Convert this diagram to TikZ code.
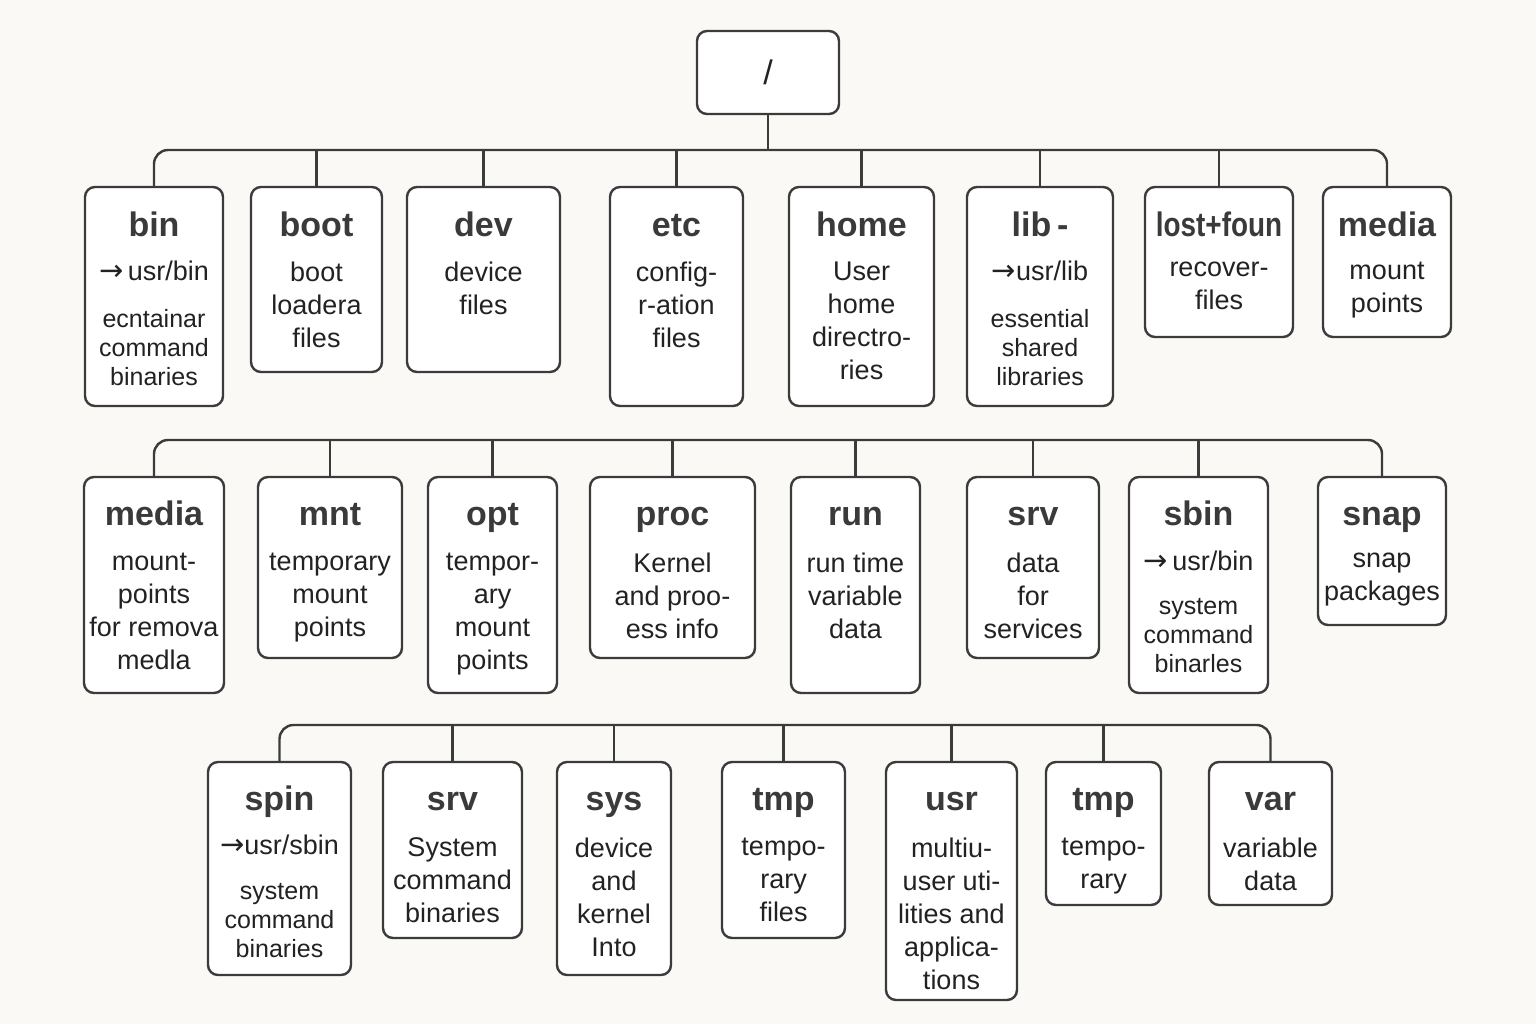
\documentclass[tikz,border=0pt]{standalone}
\usepackage{fontspec}
\setmainfont{Liberation Sans}
\newfontfamily\arrowfont{DejaVu Sans}
\usepackage{graphicx}
\definecolor{paper}{HTML}{FAF9F5}
\definecolor{linegray}{HTML}{3B3B3B}
\definecolor{titlegray}{HTML}{3A3A3A}
\definecolor{ink}{HTML}{222222}
\newcommand{\dirtitlefont}{\fontsize{34}{40}\selectfont\bfseries}
\newcommand{\dirnotefont}{\fontsize{27}{33}\selectfont}
\newcommand{\dirsmallfont}{\fontsize{25}{29}\selectfont}
\newcommand{\linkarrow}{{\arrowfont\fontsize{29}{33}\selectfont →}}
\tikzset{
  dirbox/.style={draw=linegray, line width=2.4pt, rounded corners=10pt, fill=white, inner sep=0pt},
  wire/.style={draw=linegray, line width=2.4pt},
  dirname/.style={anchor=base, inner sep=0pt, font=\dirtitlefont, text=titlegray},
  dirnote/.style={anchor=north, inner sep=0pt, align=center, font=\dirnotefont, text=ink, execute at begin node=\strut},
  dirlink/.style={anchor=base, inner sep=0pt, font=\dirnotefont, text=ink},
  dirsmall/.style={anchor=north, inner sep=0pt, align=center, font=\dirsmallfont, text=ink, execute at begin node=\strut}
}

\begin{document}
\begin{tikzpicture}[x=1pt, y=-1pt]
  \useasboundingbox (0,0) rectangle (1536,1024);
  \fill[paper] (0,0) rectangle (1536,1024);

  \node[dirbox, minimum width=142pt, minimum height=83pt, font=\fontsize{34}{40}\selectfont, text=ink] (root) at (768,72.5) {/};

  \node[dirbox, minimum width=138pt, minimum height=219pt] (bin) at (154,296.5) {};
  \node[dirbox, minimum width=131pt, minimum height=185pt] (boot) at (316.5,279.5) {};
  \node[dirbox, minimum width=153pt, minimum height=185pt] (dev) at (483.5,279.5) {};
  \node[dirbox, minimum width=133pt, minimum height=219pt] (etc) at (676.5,296.5) {};
  \node[dirbox, minimum width=145pt, minimum height=219pt] (home) at (861.5,296.5) {};
  \node[dirbox, minimum width=146pt, minimum height=219pt] (lib) at (1040,296.5) {};
  \node[dirbox, minimum width=148pt, minimum height=150pt] (lostfound) at (1219,262) {};
  \node[dirbox, minimum width=128pt, minimum height=150pt] (media) at (1387,262) {};

  \node[dirbox, minimum width=140pt, minimum height=216pt] (media2) at (154,585) {};
  \node[dirbox, minimum width=144pt, minimum height=181pt] (mnt) at (330,567.5) {};
  \node[dirbox, minimum width=129pt, minimum height=216pt] (opt) at (492.5,585) {};
  \node[dirbox, minimum width=165pt, minimum height=181pt] (proc) at (672.5,567.5) {};
  \node[dirbox, minimum width=129pt, minimum height=216pt] (run) at (855.5,585) {};
  \node[dirbox, minimum width=132pt, minimum height=181pt] (srv) at (1033,567.5) {};
  \node[dirbox, minimum width=139pt, minimum height=216pt] (sbin) at (1198.5,585) {};
  \node[dirbox, minimum width=128pt, minimum height=148pt] (snap) at (1382,551) {};

  \node[dirbox, minimum width=143pt, minimum height=213pt] (spin) at (279.5,868.5) {};
  \node[dirbox, minimum width=139pt, minimum height=176pt] (srv2) at (452.5,850) {};
  \node[dirbox, minimum width=114pt, minimum height=213pt] (sys) at (614,868.5) {};
  \node[dirbox, minimum width=123pt, minimum height=176pt] (tmp) at (783.5,850) {};
  \node[dirbox, minimum width=131pt, minimum height=238pt] (usr) at (951.5,881) {};
  \node[dirbox, minimum width=115pt, minimum height=143pt] (tmp2) at (1103.5,833.5) {};
  \node[dirbox, minimum width=123pt, minimum height=143pt] (var) at (1270.5,833.5) {};

  \node[dirname, yshift=-51pt] (bin-name) at (bin.north) {bin};
  \node[dirlink, yshift=-95pt] (bin-link) at (bin.north) {\linkarrow\,usr/bin};
  \node[dirsmall, yshift=-123pt] (bin-note) at (bin.north) {ecntainar\\command\\binaries};
  \node[dirname, yshift=-51pt] (boot-name) at (boot.north) {boot};
  \node[dirnote, yshift=-76pt] (boot-note) at (boot.north) {boot\\loadera\\files};
  \node[dirname, yshift=-51pt] (dev-name) at (dev.north) {dev};
  \node[dirnote, yshift=-76pt] (dev-note) at (dev.north) {device\\files};
  \node[dirname, yshift=-51pt] (etc-name) at (etc.north) {etc};
  \node[dirnote, yshift=-76pt] (etc-note) at (etc.north) {config-\\r-ation\\files};
  \node[dirname, yshift=-51pt] (home-name) at (home.north) {home};
  \node[dirnote, yshift=-76pt] (home-note) at (home.north) {User\\home\\directro-\\ries};
  \node[dirname, yshift=-51pt] (lib-name) at (lib.north) {lib\,-};
  \node[dirlink, yshift=-95pt] (lib-link) at (lib.north) {\linkarrow usr/lib};
  \node[dirsmall, yshift=-123pt] (lib-note) at (lib.north) {essential\\shared\\libraries};
  \node[dirname, yshift=-51pt] (lostfound-name) at (lostfound.north) {\scalebox{0.82}[1]{lost+foun}};
  \node[dirnote, yshift=-76pt] (lostfound-note) at (lostfound.north) {recover-\\files};
  \node[dirname, yshift=-51pt] (media-name) at (media.north) {media};
  \node[dirnote, yshift=-76pt] (media-note) at (media.north) {mount\\points};

  \node[dirname, yshift=-50pt] (media2-name) at (media2.north) {media};
  \node[dirnote, yshift=-77pt] (media2-note) at (media2.north) {mount-\\points\\for remova\\medla};
  \node[dirname, yshift=-50pt] (mnt-name) at (mnt.north) {mnt};
  \node[dirnote, yshift=-77pt] (mnt-note) at (mnt.north) {temporary\\mount\\points};
  \node[dirname, yshift=-50pt] (opt-name) at (opt.north) {opt};
  \node[dirnote, yshift=-77pt] (opt-note) at (opt.north) {tempor-\\ary\\mount\\points};
  \node[dirname, yshift=-50pt] (proc-name) at (proc.north) {proc};
  \node[dirnote, yshift=-77pt] (proc-note) at (proc.north) {Kernel\\and proo-\\ess info};
  \node[dirname, yshift=-50pt] (run-name) at (run.north) {run};
  \node[dirnote, yshift=-77pt] (run-note) at (run.north) {run time\\variable\\data};
  \node[dirname, yshift=-50pt] (srv-name) at (srv.north) {srv};
  \node[dirnote, yshift=-77pt] (srv-note) at (srv.north) {data\\for\\services};
  \node[dirname, yshift=-50pt] (sbin-name) at (sbin.north) {sbin};
  \node[dirlink, yshift=-95pt] (sbin-link) at (sbin.north) {\linkarrow\,usr/bin};
  \node[dirsmall, yshift=-122pt] (sbin-note) at (sbin.north) {system\\command\\binarles};
  \node[dirname, yshift=-50pt] (snap-name) at (snap.north) {snap};
  \node[dirnote, yshift=-77pt] (snap-note) at (snap.north) {snap\\packages};

  \node[dirname, yshift=-50pt] (spin-name) at (spin.north) {spin};
  \node[dirlink, yshift=-94pt] (spin-link) at (spin.north) {\linkarrow usr/sbin};
  \node[dirsmall, yshift=-122pt] (spin-note) at (spin.north) {system\\command\\binaries};
  \node[dirname, yshift=-50pt] (srv2-name) at (srv2.north) {srv};
  \node[dirnote, yshift=-77pt] (srv2-note) at (srv2.north) {System\\command\\binaries};
  \node[dirname, yshift=-50pt] (sys-name) at (sys.north) {sys};
  \node[dirnote, yshift=-77pt] (sys-note) at (sys.north) {device\\and\\kernel\\Into};
  \node[dirname, yshift=-50pt] (tmp-name) at (tmp.north) {tmp};
  \node[dirnote, yshift=-77pt] (tmp-note) at (tmp.north) {tempo-\\rary\\files};
  \node[dirname, yshift=-50pt] (usr-name) at (usr.north) {usr};
  \node[dirnote, yshift=-77pt] (usr-note) at (usr.north) {multiu-\\user uti-\\lities and\\applica-\\tions};
  \node[dirname, yshift=-50pt] (tmp2-name) at (tmp2.north) {tmp};
  \node[dirnote, yshift=-77pt] (tmp2-note) at (tmp2.north) {tempo-\\rary};
  \node[dirname, yshift=-50pt] (var-name) at (var.north) {var};
  \node[dirnote, yshift=-77pt] (var-note) at (var.north) {variable\\data};

  \coordinate (bus1) at (0,150);
  \coordinate (bus2) at (0,440);
  \coordinate (bus3) at (0,725);

  \draw[wire] (root.south) -- (root.south |- bus1);
  \draw[wire, rounded corners=14pt] (bin.north) -- (bin.north |- bus1) -- (media.north |- bus1) -- (media.north);
  \draw[wire] (boot.north) -- (boot.north |- bus1);
  \draw[wire] (dev.north) -- (dev.north |- bus1);
  \draw[wire] (etc.north) -- (etc.north |- bus1);
  \draw[wire] (home.north) -- (home.north |- bus1);
  \draw[wire] (lib.north) -- (lib.north |- bus1);
  \draw[wire] (lostfound.north) -- (lostfound.north |- bus1);

  \draw[wire, rounded corners=14pt] (media2.north) -- (media2.north |- bus2) -- (snap.north |- bus2) -- (snap.north);
  \draw[wire] (mnt.north) -- (mnt.north |- bus2);
  \draw[wire] (opt.north) -- (opt.north |- bus2);
  \draw[wire] (proc.north) -- (proc.north |- bus2);
  \draw[wire] (run.north) -- (run.north |- bus2);
  \draw[wire] (srv.north) -- (srv.north |- bus2);
  \draw[wire] (sbin.north) -- (sbin.north |- bus2);

  \draw[wire, rounded corners=14pt] (spin.north) -- (spin.north |- bus3) -- (var.north |- bus3) -- (var.north);
  \draw[wire] (srv2.north) -- (srv2.north |- bus3);
  \draw[wire] (sys.north) -- (sys.north |- bus3);
  \draw[wire] (tmp.north) -- (tmp.north |- bus3);
  \draw[wire] (usr.north) -- (usr.north |- bus3);
  \draw[wire] (tmp2.north) -- (tmp2.north |- bus3);
\end{tikzpicture}
\end{document}
